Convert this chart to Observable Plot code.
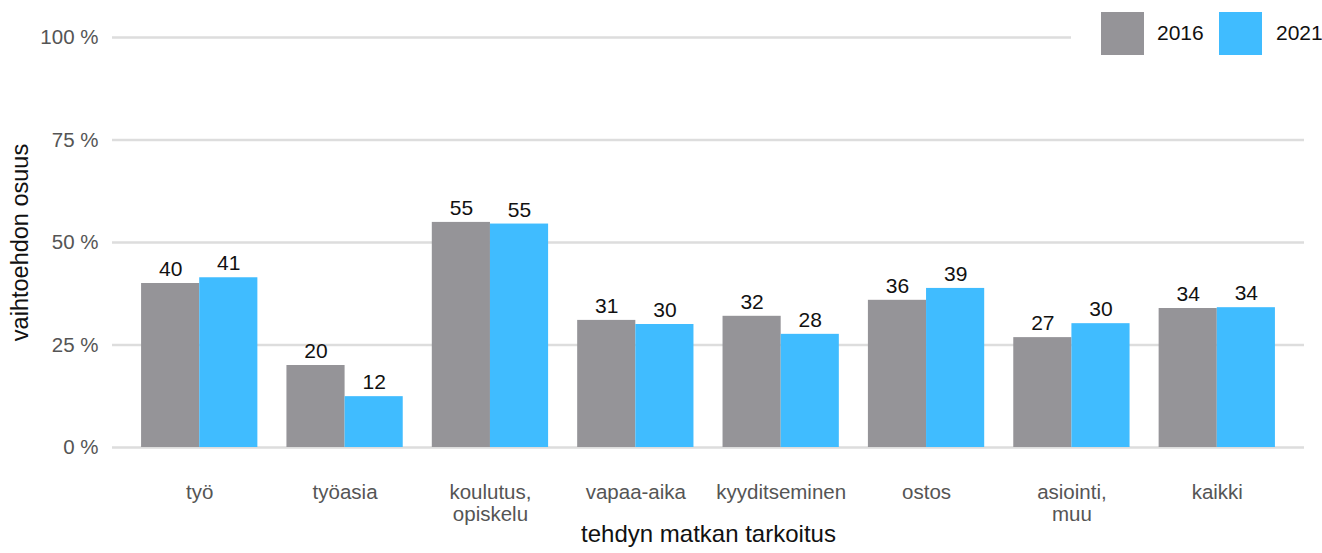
<!DOCTYPE html>
<html>
<head>
<meta charset="utf-8">
<script src="https://cdn.jsdelivr.net/npm/d3@7"></script>
<script src="https://cdn.jsdelivr.net/npm/@observablehq/plot@0.6"></script>
<style>
  html, body { margin: 0; padding: 0; background: #fff; }
  #wrap { position: relative; width: 1322px; height: 553px; font-family: "Liberation Sans", Arial, sans-serif; }
  #legend { position: absolute; top: 0; left: 1071px; width: 251px; height: 62px; background: #fff; }
  .sw { position: absolute; top: 12px; width: 43px; height: 43px; }
  .lt { position: absolute; top: 21px; font-size: 21px; color: #111; line-height: 24px; }
</style>
</head>
<body>
<div id="wrap">
  <div id="chart"></div>
  <div id="legend">
    <div class="sw" style="left:30px;background:#959498"></div><div class="lt" style="left:86px">2016</div>
    <div class="sw" style="left:148px;background:#40bcff"></div><div class="lt" style="left:205px">2021</div>
  </div>
</div>
<script>
const categories = ["työ", "työasia", "koulutus, opiskelu", "vapaa-aika", "kyyditseminen", "ostos", "asiointi, muu", "kaikki"];
const values2016 = [40.0, 20.0, 54.9, 31.0, 32.0, 35.9, 26.8, 33.9];
const values2021 = [41.4, 12.4, 54.5, 30.0, 27.6, 38.8, 30.2, 34.1];
const yTicks = [0, 25, 50, 75, 100];
const colors = {"2016": "#959498", "2021": "#40bcff"};

const d16 = categories.map((c, i) => ({cat: c, v: values2016[i]}));
const d21 = categories.map((c, i) => ({cat: c, v: values2021[i]}));

const W = 1322, ML = 112, MR = 18;
const step = (W - ML - MR) / (categories.length - 0.2 + 0.4);
const half = step * 0.8 / 2;

const chart = Plot.plot({
  width: W, height: 553,
  marginLeft: ML, marginRight: MR, marginTop: 37, marginBottom: 106,
  style: {fontFamily: "'Liberation Sans', Arial, sans-serif", background: "#fff"},
  x: {domain: categories, paddingInner: 0.2, paddingOuter: 0.2, round: false, axis: null},
  y: {domain: [0, 100], axis: null},
  marks: [
    Plot.ruleY(yTicks, {stroke: "#dddddd", strokeWidth: 2.5}),
    Plot.axisY(yTicks, {tickSize: 0, tickPadding: 14, tickFormat: d => d + " %", fill: "#555", fontSize: 20.5, label: null}),
    Plot.axisX({tickSize: 0, tickPadding: 36, fontSize: 20.5, fill: "#555", lineHeight: 1.07, tickFormat: d => d.replace(", ", ",\n"), label: null}),
    Plot.barY(d16, {x: "cat", y: "v", fill: colors["2016"], insetRight: half}),
    Plot.barY(d21, {x: "cat", y: "v", fill: colors["2021"], insetLeft: half}),
    Plot.text(d16, {x: "cat", y: "v", text: d => Math.round(d.v), dx: -half / 2, dy: -14, fontSize: 21, fill: "#111"}),
    Plot.text(d21, {x: "cat", y: "v", text: d => Math.round(d.v), dx: half / 2, dy: -14, fontSize: 21, fill: "#111"}),
    Plot.text(["tehdyn matkan tarkoitus"], {frameAnchor: "bottom", lineAnchor: "middle", textAnchor: "middle", dy: 86.5, fontSize: 24, fill: "#111", text: d => d}),
    Plot.text(["vaihtoehdon osuus"], {frameAnchor: "left", textAnchor: "middle", lineAnchor: "middle", dx: -92, rotate: -90, fontSize: 23.5, fill: "#111", text: d => d})
  ]
});
document.getElementById("chart").appendChild(chart);
</script>
</body>
</html>
